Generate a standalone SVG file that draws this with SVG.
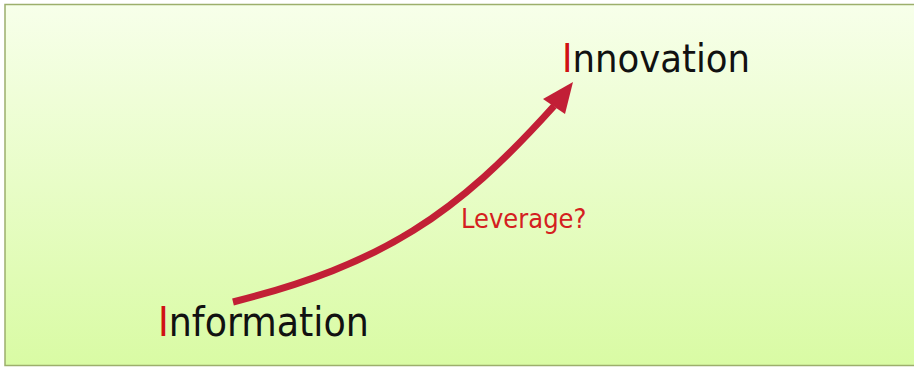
<svg xmlns="http://www.w3.org/2000/svg" width="914" height="368" viewBox="0 0 914 368">
<defs>
<linearGradient id="bg" x1="0" y1="0" x2="0" y2="1">
<stop offset="0" stop-color="#f7ffea"/>
<stop offset="1" stop-color="#d9fba4"/>
</linearGradient>
<style>
.big{font-family:"DejaVu Sans Condensed","DejaVu Sans",sans-serif;font-size:39.5px;fill:#111}
.ini{fill:#d01212}
.lab{font-family:"DejaVu Sans Condensed","DejaVu Sans",sans-serif;font-size:27px;fill:#d42020}
.arrow{fill:none;stroke:#c21f36;stroke-width:7;stroke-linecap:butt}
.head{fill:#c21f36}
</style>
</defs>
<rect x="5" y="4.5" width="912" height="361" fill="url(#bg)" stroke="#9caf6c" stroke-width="1.5"/>
<g id="connectors">
<path class="arrow" d="M233,302 C383,264 456,215 554,106"/>
<polygon class="head" points="573,82 543,99 565,114"/>
</g>
<g id="innovation"><text class="big" x="562" y="72"><tspan class="ini">I</tspan>nnovation</text></g>
<g id="information"><text class="big" x="158" y="336" style="font-size:40.5px"><tspan class="ini">I</tspan>nformation</text></g>
<g id="leverage"><text class="lab" x="461" y="228">Leverage?</text></g>
</svg>
